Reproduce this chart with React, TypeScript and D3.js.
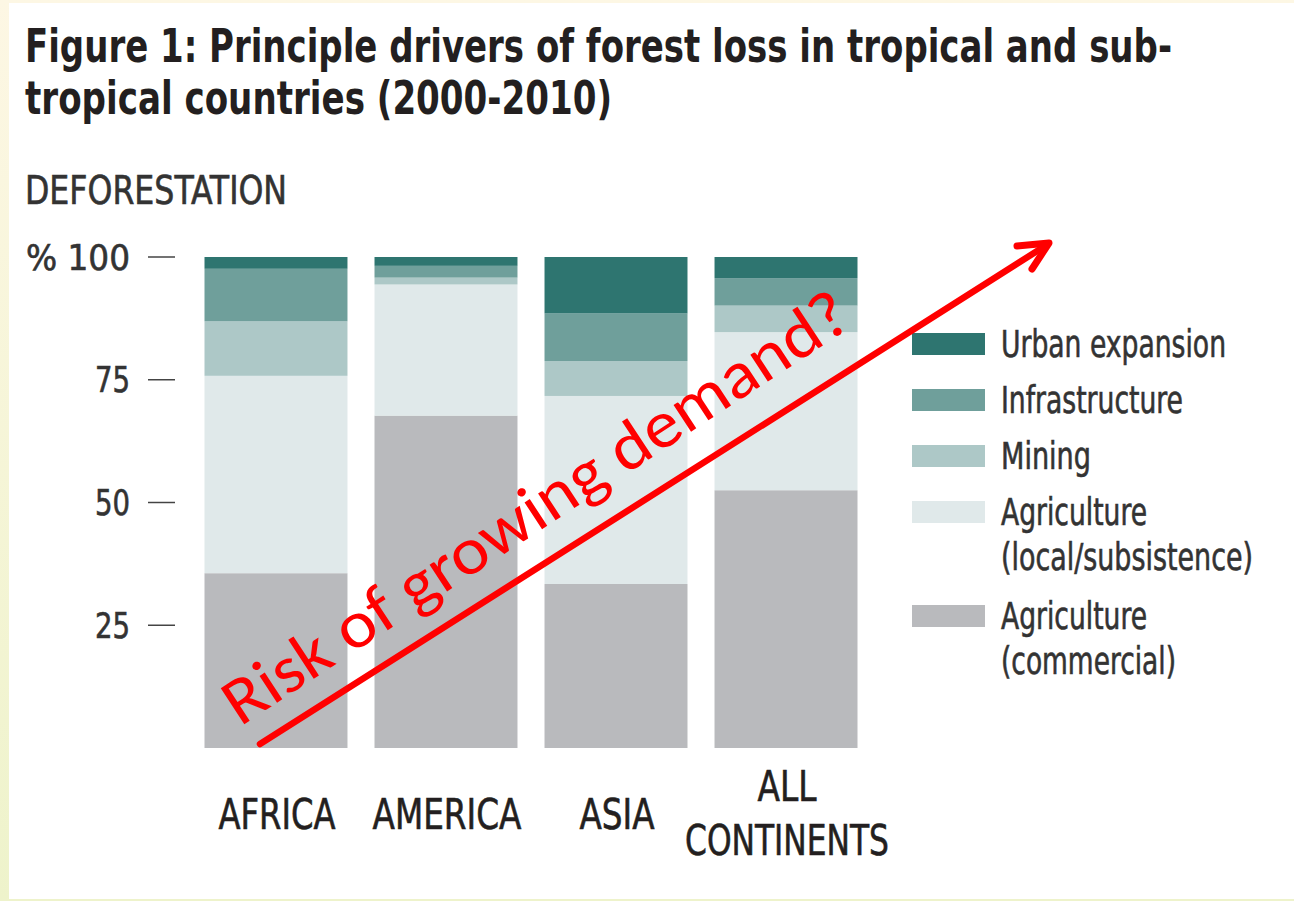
import React, { useEffect, useRef } from "react";
import * as d3 from "d3";

const continents = ["AFRICA", "AMERICA", "ASIA", "ALL CONTINENTS"];
const continentLines = [["AFRICA"], ["AMERICA"], ["ASIA"], ["ALL", "CONTINENTS"]];

// % of deforestation per driver
const commercial = [35.6, 67.7, 33.4, 52.5];
const subsistence = [40.2, 26.7, 38.3, 32.2];
const mining = [11.1, 1.4, 7.1, 5.4];
const infrastructure = [10.7, 2.4, 9.7, 5.6];
const urban = [2.4, 1.8, 11.5, 4.3];

const driverKeys = ["commercial", "subsistence", "mining", "infrastructure", "urban"];
const driverColors = ["#b9babd", "#e0e9ea", "#adc8c7", "#6f9f9b", "#2e7570"];
const legendKeys = ["urban", "infrastructure", "mining", "subsistence", "commercial"];
const legendLabels = [
  ["Urban expansion"],
  ["Infrastructure"],
  ["Mining"],
  ["Agriculture", "(local/subsistence)"],
  ["Agriculture", "(commercial)"],
];

const yTicks = [25, 50, 75, 100];

// layout only: the printed font is a narrow Helvetica, so text is fitted to the widths it had
const W = 1294;
const H = 901;
const COND = "'DejaVu Sans Condensed', 'DejaVu Sans', sans-serif";
const legendTops = [333, 389, 445, 501, 605];
const legendWidths = [[225], [182], [90], [146, 252], [146, 175]];
const xLabelWidths = [[117], [149], [75], [59, 204]];
const tickWidths = [35, 35, 35, 104];

function fitText(parent: any, x: number, y: number, str: string, size: number, width: number, opts: any = {}) {
  const fill = opts.fill || "#333";
  return parent
    .append("text")
    .attr("x", x)
    .attr("y", y)
    .attr("font-family", opts.family || COND)
    .attr("font-weight", opts.weight || "normal")
    .attr("font-size", size)
    .attr("fill", fill)
    .attr("stroke", opts.weight === "bold" ? "none" : fill)
    .attr("stroke-width", 0.6)
    .attr("text-anchor", opts.anchor || "start")
    .attr("textLength", width)
    .attr("lengthAdjust", "spacingAndGlyphs")
    .text(str);
}

export default function App() {
  const ref = useRef<SVGSVGElement>(null);

  useEffect(() => {
    const svg = d3.select(ref.current);
    svg.selectAll("*").remove();

    // page background / border
    const defs = svg.append("defs");
    const grad = defs
      .append("linearGradient")
      .attr("id", "bg")
      .attr("x1", 0)
      .attr("y1", 0)
      .attr("x2", 0)
      .attr("y2", 1);
    grad.append("stop").attr("offset", "0%").attr("stop-color", "#fdf7e4");
    grad.append("stop").attr("offset", "100%").attr("stop-color", "#eef3cb");
    svg.append("rect").attr("width", W).attr("height", H).attr("fill", "url(#bg)");
    svg.append("rect").attr("x", 9).attr("y", 3).attr("width", W - 9).attr("height", 896).attr("fill", "#fff");

    // title
    const tOpts = { weight: "bold", fill: "#231f20" };
    fitText(svg, 25, 62, "Figure 1: Principle drivers of forest loss in tropical and sub-", 46, 1147, tOpts);
    fitText(svg, 25, 114, "tropical countries (2000-2010)", 46, 587, tOpts);

    fitText(svg, 25, 204, "DEFORESTATION", 39, 262);

    const y = d3.scaleLinear().domain([0, 100]).range([748, 257]);
    const x = d3.scaleBand().domain(continents).range([204.5, 857.5]).paddingInner(0.159);

    const rows = continents.map((c, i) => ({
      continent: c,
      commercial: commercial[i],
      subsistence: subsistence[i],
      mining: mining[i],
      infrastructure: infrastructure[i],
      urban: urban[i],
    }));
    const series = d3.stack<any>().keys(driverKeys)(rows);

    svg
      .append("g")
      .selectAll("g")
      .data(series)
      .join("g")
      .attr("fill", (d, i) => driverColors[i])
      .selectAll("rect")
      .data(d => d)
      .join("rect")
      .attr("x", d => x(d.data.continent) as number)
      .attr("width", x.bandwidth())
      .attr("y", d => y(d[1]))
      .attr("height", d => y(d[0]) - y(d[1]));

    // y axis: labels + dashes
    const yAxis = svg.append("g");
    yAxis
      .selectAll("line")
      .data(yTicks)
      .join("line")
      .attr("x1", 148)
      .attr("x2", 175)
      .attr("y1", d => y(d))
      .attr("y2", d => y(d))
      .attr("stroke", "#444")
      .attr("stroke-width", 1.5);
    yTicks.forEach((t, i) => {
      fitText(yAxis, 130, y(t) + 12.5, t === 100 ? "% 100" : String(t), 35, tickWidths[i], { anchor: "end" });
    });

    // x labels
    const xl = svg.append("g");
    continents.forEach((c, i) => {
      const lines = continentLines[i];
      const cx = (x(c) as number) + x.bandwidth() / 2 + 1;
      lines.forEach((ln, j) => {
        const base = lines.length === 1 ? 829 : 801 + j * 54;
        fitText(xl, cx, base, ln, 42, xLabelWidths[i][j], { anchor: "middle", fill: "#231f20" });
      });
    });

    // legend
    const lg = svg.append("g");
    legendKeys.forEach((k, i) => {
      const top = legendTops[i];
      lg.append("rect")
        .attr("x", 912)
        .attr("y", top)
        .attr("width", 73)
        .attr("height", 22)
        .attr("fill", driverColors[driverKeys.indexOf(k)]);
      legendLabels[i].forEach((ln, j) => {
        fitText(lg, 1001, top + 24 + j * 45, ln, 37, legendWidths[i][j]);
      });
    });

    // red annotation arrow
    const a0 = [260, 744];
    const a1 = [1049, 243];
    svg
      .append("line")
      .attr("x1", a0[0])
      .attr("y1", a0[1])
      .attr("x2", a1[0] - 4)
      .attr("y2", a1[1] + 3)
      .attr("stroke", "#ff0000")
      .attr("stroke-width", 6.5)
      .attr("stroke-linecap", "round");
    svg
      .append("path")
      .attr("d", d3.line()([[1017, 246], a1 as [number, number], [1032, 269]]))
      .attr("fill", "none")
      .attr("stroke", "#ff0000")
      .attr("stroke-width", 7)
      .attr("stroke-linecap", "round")
      .attr("stroke-linejoin", "round");

    svg
      .append("text")
      .attr("transform", "translate(240, 727) rotate(-33.2)")
      .attr("font-family", "Carlito, Calibri, Lato, sans-serif")
      .attr("font-size", 67)
      .attr("fill", "#ff0000")
      .attr("textLength", 735)
      .attr("lengthAdjust", "spacingAndGlyphs")
      .text("Risk of growing demand?");
  }, []);

  return (
    <svg
      ref={ref}
      width={W}
      height={H}
      style={{ position: "absolute", left: 0, top: 0 }}
    />
  );
}
